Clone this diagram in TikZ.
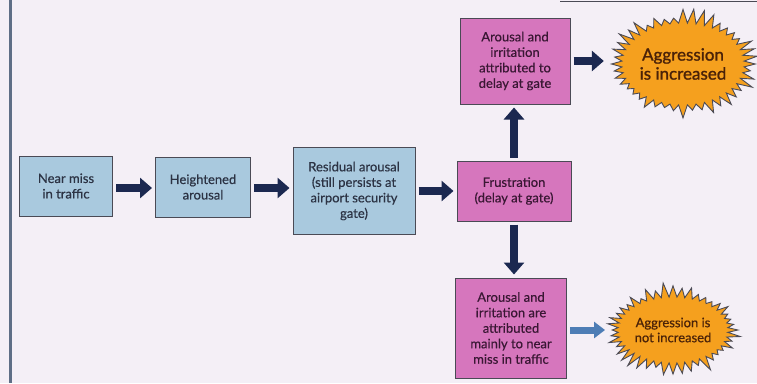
\documentclass[tikz,border=0pt]{standalone}
\usepackage{fontspec}
\setmainfont{Lato}
\newfontfamily\boxfont{Lato}[FakeBold=0.5]
\newfontfamily\burstfont{Lato}[FakeBold=1.2]
\usetikzlibrary{arrows.meta,shapes.symbols}
\definecolor{pagebg}{HTML}{F4EFF6}
\definecolor{sidebar}{HTML}{5E6E86}
\definecolor{bluefill}{HTML}{A9C9DE}
\definecolor{pinkfill}{HTML}{D676BD}
\definecolor{burstfill}{HTML}{F5A01E}
\definecolor{boxline}{HTML}{4A4A55}
\definecolor{navy}{HTML}{1B2850}
\definecolor{softblue}{HTML}{4D7DB5}
\definecolor{bluetext}{HTML}{2C3344}
\definecolor{pinktext}{HTML}{3A1734}
\definecolor{bursttext}{HTML}{4A2208}
\tikzset{
  bluebox/.style={draw=boxline, line width=1pt, fill=bluefill, text=bluetext,
    align=center, font=\boxfont\fontsize{13}{15.5}\selectfont, inner sep=2pt},
  pinkbox/.style={draw=boxline, line width=1pt, fill=pinkfill, text=pinktext,
    align=center, font=\boxfont\fontsize{13}{15.5}\selectfont, inner sep=2pt},
  burst/.style={shape=starburst, draw=boxline, line width=0.9pt, fill=burstfill,
    text=bursttext, align=center, starburst points=44,
    starburst point height=15pt, inner sep=0pt},
  fatarrow/.style={draw=navy, line width=8.5pt,
    -{Triangle[length=12pt,width=20pt]}, shorten <=3pt, shorten >=3pt},
  softarrow/.style={fatarrow, draw=softblue, line width=7pt,
    -{Triangle[length=11pt,width=16pt]}},
}
\begin{document}
\begin{tikzpicture}[x=1pt,y=-1pt]
  % page background and binding edge
  \fill[pagebg] (0,0) rectangle (757,383);
  \useasboundingbox (0,0) rectangle (757,383);
  \fill[sidebar] (9,0) rectangle (12,383);
  \draw[boxline, line width=1.5pt] (560,1.5) -- (757,1.5);

  % boxes of the causal chain
  \node[bluebox, minimum width=93pt, minimum height=60pt] (near) at (66,186)
    {Near miss\\in traffic};
  \node[bluebox, minimum width=95pt, minimum height=60pt] (high) at (203,187)
    {Heightened\\arousal};
  \node[bluebox, minimum width=122pt, minimum height=87pt] (resid) at (354,191)
    {Residual arousal\\(still persists at\\airport security\\gate)};
  \node[pinkbox, minimum width=114pt, minimum height=60pt] (frus) at (514,191)
    {Frustration\\(delay at gate)};
  \node[pinkbox, minimum width=110pt, minimum height=86pt] (gate) at (515,61)
    {Arousal and\\irritation\\attributed to\\delay at gate};
  \node[pinkbox, minimum width=111pt, minimum height=100pt] (miss) at (511,328)
    {Arousal and\\irritation are\\attributed\\mainly to near\\miss in traffic};

  % outcomes
  \node[burst, minimum width=146pt, minimum height=112pt, random starburst=7,
    font=\burstfont\fontsize{17}{19}\selectfont] (inc) at (683,64)
    {Aggression\\is increased};
  \node[burst, minimum width=140pt, minimum height=96pt, random starburst=11,
    font=\boxfont\fontsize{13}{15}\selectfont] (noinc) at (673,330)
    {Aggression is\\not increased};

  % connectors
  \draw[fatarrow] (near.east|-0,188) -- (high.west|-0,188);
  \draw[fatarrow] (high.east|-0,188) -- (resid.west|-0,188);
  \draw[fatarrow] (resid.east|-frus) -- (frus.west);
  \draw[fatarrow] (frus.north) -- (frus.north|-gate.south);
  \draw[fatarrow] (frus.south) -- (frus.south|-miss.north);
  \draw[fatarrow, shorten >=6pt] (gate.east) -- (gate.east-|inc.west);
  \draw[softarrow, shorten >=6pt] (miss.east|-noinc.west) -- (noinc.west);
\end{tikzpicture}
\end{document}
